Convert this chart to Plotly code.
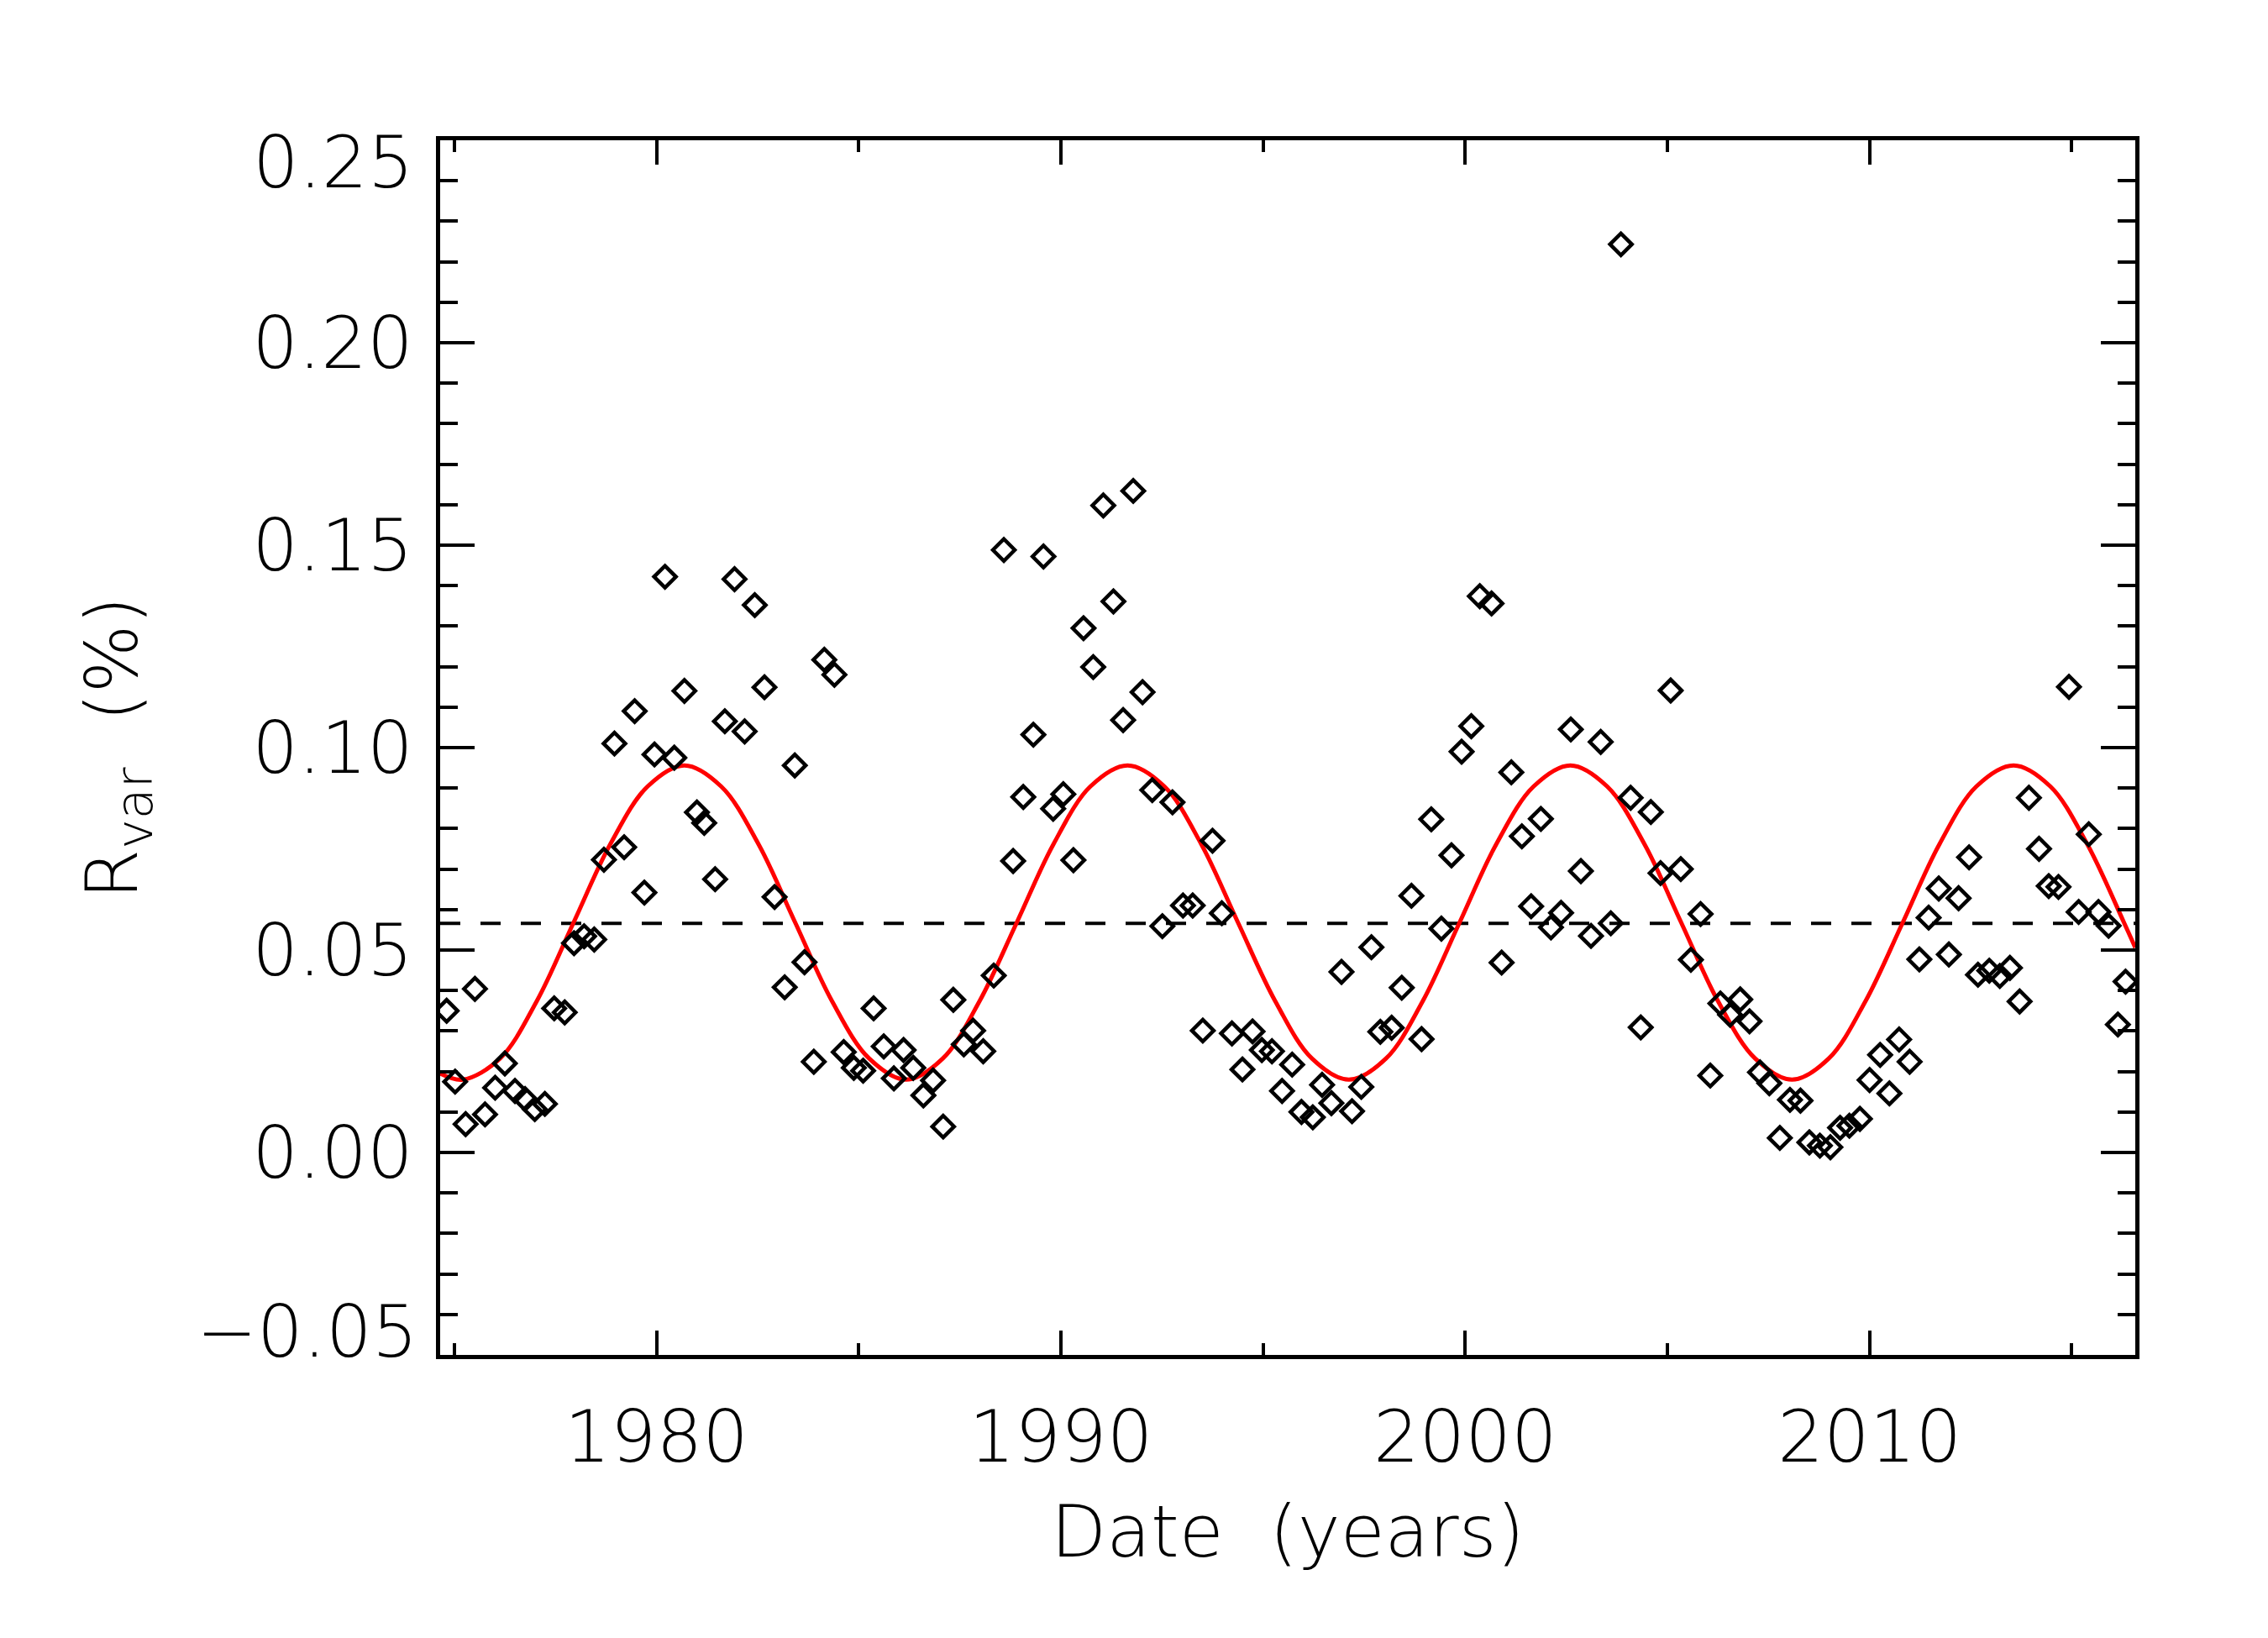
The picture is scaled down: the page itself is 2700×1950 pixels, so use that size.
import plotly.graph_objects as go

# ---------------- data ----------------
years = [1974.81, 1975.02, 1975.28, 1975.51, 1975.76, 1976.01, 1976.25, 1976.50, 1976.75, 1976.99,
         1977.24, 1977.47, 1977.73, 1977.96, 1978.21, 1978.46, 1978.70, 1978.96, 1979.20, 1979.46,
         1979.70, 1979.95, 1980.21, 1980.44, 1980.69, 1981.00, 1981.18, 1981.45, 1981.69, 1981.93,
         1982.18, 1982.43, 1982.67, 1982.92, 1983.17, 1983.42, 1983.66, 1983.89, 1984.15, 1984.40,
         1984.63, 1984.88, 1985.11, 1985.37, 1985.62, 1985.87, 1986.11, 1986.35, 1986.60, 1986.84,
         1987.09, 1987.34, 1987.60, 1987.83, 1988.08, 1988.34, 1988.59, 1988.82, 1989.07, 1989.32,
         1989.57, 1989.81, 1990.06, 1990.31, 1990.56, 1990.80, 1991.05, 1991.30, 1991.54, 1991.79,
         1992.02, 1992.26, 1992.51, 1992.76, 1993.02, 1993.26, 1993.51, 1993.75, 1993.98, 1994.23,
         1994.49, 1994.74, 1994.97, 1995.22, 1995.47, 1995.72, 1995.95, 1996.23, 1996.46, 1996.69,
         1996.94, 1997.20, 1997.43, 1997.68, 1997.90, 1998.18, 1998.43, 1998.67, 1998.92, 1999.16,
         1999.41, 1999.66, 1999.91, 2000.15, 2000.36, 2000.65, 2000.90, 2001.14, 2001.40, 2001.63,
         2001.87, 2002.12, 2002.37, 2002.61, 2002.86, 2003.11, 2003.35, 2003.60, 2003.85, 2004.09,
         2004.34, 2004.59, 2004.83, 2005.08, 2005.33, 2005.58, 2005.82, 2006.06, 2006.31, 2006.55,
         2006.80, 2007.03, 2007.29, 2007.52, 2007.78, 2008.03, 2008.29, 2008.51, 2008.77, 2009.03,
         2009.27, 2009.50, 2009.76, 2010.00, 2010.26, 2010.49, 2010.73, 2010.99, 2011.23, 2011.46,
         2011.71, 2011.96, 2012.20, 2012.46, 2012.68, 2012.96, 2013.22, 2013.47, 2013.71, 2013.94,
         2014.19, 2014.43, 2014.67, 2014.93, 2015.17, 2015.42, 2015.66, 2015.91, 2016.14, 2016.33]

rvar = [0.0350, 0.0175, 0.0070, 0.0404, 0.0094, 0.0160, 0.0220, 0.0152, 0.0132, 0.0107,
        0.0120, 0.0356, 0.0346, 0.0517, 0.0534, 0.0526, 0.0723, 0.1010, 0.0754, 0.1090,
        0.0642, 0.0983, 0.1422, 0.0975, 0.1140, 0.0840, 0.0814, 0.0675, 0.1065, 0.1416,
        0.1040, 0.1352, 0.1149, 0.0631, 0.0408, 0.0956, 0.0470, 0.0224, 0.1217, 0.1180,
        0.0248, 0.0209, 0.0202, 0.0356, 0.0262, 0.0183, 0.0253, 0.0209, 0.0141, 0.0178,
        0.0064, 0.0377, 0.0267, 0.0301, 0.0250, 0.0437, 0.1488, 0.0720, 0.0878, 0.1032,
        0.1472, 0.0849, 0.0885, 0.0722, 0.1295, 0.1199, 0.1598, 0.1361, 0.1068, 0.1634,
        0.1137, 0.0895, 0.0559, 0.0865, 0.0610, 0.0610, 0.0301, 0.0770, 0.0591, 0.0294,
        0.0205, 0.0299, 0.0253, 0.0250, 0.0152, 0.0217, 0.0100, 0.0087, 0.0167, 0.0122,
        0.0446, 0.0102, 0.0162, 0.0507, 0.0298, 0.0308, 0.0407, 0.0634, 0.0280, 0.0823,
        0.0553, 0.0734, 0.0990, 0.1053, 0.1374, 0.1356, 0.0469, 0.0939, 0.0781, 0.0608,
        0.0824, 0.0556, 0.0592, 0.1045, 0.0695, 0.0535, 0.1014, 0.0566, 0.2243, 0.0876,
        0.0309, 0.0841, 0.0690, 0.1141, 0.0700, 0.0476, 0.0589, 0.0190, 0.0368, 0.0340,
        0.0378, 0.0324, 0.0198, 0.0171, 0.0036, 0.0130, 0.0128, 0.0025, 0.0017, 0.0013,
        0.0061, 0.0066, 0.0083, 0.0179, 0.0241, 0.0146, 0.0279, 0.0224, 0.0477, 0.0580,
        0.0652, 0.0489, 0.0628, 0.0729, 0.0439, 0.0449, 0.0436, 0.0456, 0.0373, 0.0876,
        0.0750, 0.0658, 0.0656, 0.1150, 0.0594, 0.0786, 0.0594, 0.0560, 0.0316, 0.0422]

# red fitted curve
fit_years = [1974.65, 1975.21, 1976.13, 1977.04, 1977.95, 1978.86, 1979.78, 1980.69, 1981.60,
             1982.52, 1983.43, 1984.34, 1985.26, 1986.17, 1987.08, 1987.99, 1988.91, 1989.82,
             1990.73, 1991.65, 1992.56, 1993.47, 1994.38, 1995.30, 1996.21, 1997.12, 1998.04,
             1998.95, 1999.86, 2000.77, 2001.69, 2002.60, 2003.51, 2004.43, 2005.34, 2006.25,
             2007.17, 2008.08, 2008.99, 2009.90, 2010.82, 2011.73, 2012.64, 2013.56, 2014.47,
             2015.38, 2016.29, 2016.57]
fit_values = [0.0195, 0.0180, 0.0232, 0.0374, 0.0568, 0.0762, 0.0904, 0.0956, 0.0904,
              0.0762, 0.0568, 0.0374, 0.0232, 0.0180, 0.0232, 0.0374, 0.0568, 0.0762,
              0.0904, 0.0956, 0.0904, 0.0762, 0.0568, 0.0374, 0.0232, 0.0180, 0.0232,
              0.0374, 0.0568, 0.0762, 0.0904, 0.0956, 0.0904, 0.0762, 0.0568, 0.0374,
              0.0232, 0.0180, 0.0232, 0.0374, 0.0568, 0.0762, 0.0904, 0.0956, 0.0904,
              0.0762, 0.0568, 0.0506]

mean_level = 0.0566
x_range = [1974.65, 2016.57]
y_range = [-0.05, 0.25]

x_major = [1980, 1990, 2000, 2010]
x_major_text = ["1980", "1990", "2000", "2010"]
x_minor = [1975, 1985, 1995, 2005, 2015]
y_major = [0.00, 0.05, 0.10, 0.15, 0.20]
y_major_text = ["0.00", "0.05", "0.10", "0.15", "0.20"]
y_edge_text = ["\u22120.05", "0.25"]
y_minor = [round(-0.04 + 0.01 * i, 2) for i in range(29)]

FONT = "DejaVu Sans"
FS = 86

fig = go.Figure()
fig.add_trace(go.Scatter(x=x_range, y=[mean_level, mean_level], mode="lines",
                         line=dict(color="black", width=4, dash="24px,24px"),
                         showlegend=False, hoverinfo="skip"))
fig.add_trace(go.Scatter(x=fit_years, y=fit_values, mode="lines",
                         line=dict(color="#ff0000", width=5, shape="spline", smoothing=1.0),
                         showlegend=False))
fig.add_trace(go.Scatter(x=years, y=rvar, mode="markers",
                         marker=dict(symbol="diamond-open", size=20, color="black",
                                     line=dict(color="black", width=4.5)),
                         showlegend=False))

axis_common = dict(showline=True, linecolor="black", linewidth=5, mirror="ticks",
                   ticks="inside", tickcolor="black", tickwidth=4, showgrid=False,
                   zeroline=False, tickfont=dict(family=FONT, size=FS, color="black", weight=200))

fig.update_xaxes(range=x_range, tickmode="array", tickvals=x_major, ticktext=x_major_text,
                 ticklen=29, ticklabelstandoff=19,
                 minor=dict(tickmode="array", tickvals=x_minor, ticks="inside", ticklen=14,
                            tickwidth=4, tickcolor="black", showgrid=False),
                 **axis_common)
fig.update_yaxes(range=y_range, tickmode="array", tickvals=y_major, ticktext=y_major_text,
                 ticklen=41, ticklabelstandoff=10,
                 minor=dict(tickmode="array", tickvals=y_minor, ticks="inside", ticklen=21,
                            tickwidth=4, tickcolor="black", showgrid=False),
                 **axis_common)

tf = dict(family=FONT, size=FS, color="black", weight=200)
annotations = [
    dict(text=y_edge_text[1], xref="paper", yref="paper", x=0, y=1, xanchor="right", yanchor="top",
         xshift=-30, yshift=26, showarrow=False, font=tf),
    dict(text=y_edge_text[0], xref="paper", yref="paper", x=0, y=0, xanchor="right", yanchor="bottom",
         xshift=-24, yshift=-24, showarrow=False, font=tf),
    dict(text="Date&nbsp;&nbsp;(years)", xref="paper", yref="paper", x=0.5, y=-0.145,
         xanchor="center", yanchor="middle", showarrow=False, font=tf),
    dict(text="R<sub>var</sub>&nbsp;&nbsp;(%)", xref="paper", yref="paper", x=-0.191, y=0.5,
         xanchor="center", yanchor="middle", textangle=-90, showarrow=False, font=tf),
]

fig.update_layout(width=2700, height=1950, plot_bgcolor="white", paper_bgcolor="white",
                  margin=dict(l=524, r=158, t=167, b=337, autoexpand=False),
                  annotations=annotations, showlegend=False)

fig.write_html("out.html")
